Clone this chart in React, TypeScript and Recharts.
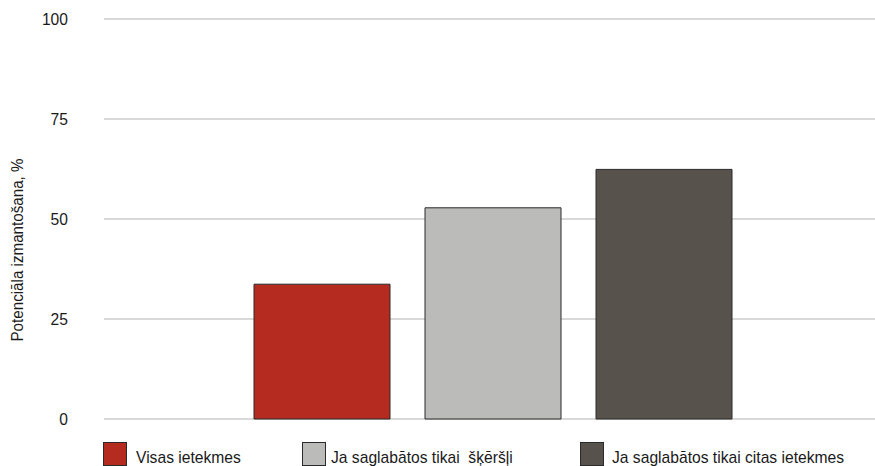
import React from 'react';
import { BarChart, Bar, XAxis, YAxis, CartesianGrid } from 'recharts';

const seriesNames = ['Visas ietekmes', 'Ja saglabātos tikai  šķēršļi', 'Ja saglabātos tikai citas ietekmes'];
const seriesValues = [33.7, 52.8, 62.4];
const seriesColors = ['#B52B20', '#BBBBBA', '#57534C'];
const yTicks = [0, 25, 50, 75, 100];
const yTitle = 'Potenciāla izmantošana, %';

const keys = ['visas', 'skersli', 'citas'];
const row: Record<string, number | string> = { name: '' };
keys.forEach((k, i) => {
  row[k] = seriesValues[i];
});
const data = [row];

// narrow sans look: Liberation Sans squeezed horizontally
const FONT = '"Liberation Sans", Arial, sans-serif';
const SQUEEZE = 0.92;
const INK = '#1a1a1a';

const legendBox = [103, 302, 580];
const legendText = [136, 331, 612];

const YTick = ({ x, y, payload }: any) => (
  <g transform={`translate(${x},${y}) scale(${SQUEEZE},1)`}>
    <text x={0} y={0} dy="0.355em" textAnchor="end" fill={INK} fontSize={17} fontFamily={FONT}>
      {payload.value}
    </text>
  </g>
);

const YTitle = () => (
  <g transform={`translate(22.5,250) rotate(-90) scale(${SQUEEZE},1)`}>
    <text x={0} y={0} textAnchor="middle" fill={INK} fontSize={16.5} fontFamily={FONT}>
      {yTitle}
    </text>
  </g>
);

export default function App() {
  return (
    <div style={{ position: 'absolute', left: 0, top: 0, width: 875, height: 466, background: '#fff', overflow: 'hidden', fontFamily: FONT }}>
      <style>{'html,body{margin:0;overflow:hidden;}'}</style>
      <BarChart
        width={875}
        height={466}
        data={data}
        margin={{ top: 19, right: 0, left: 0, bottom: 47 }}
        barGap={35}
        barSize={136}
      >
        <CartesianGrid vertical={false} stroke="#D9D9D9" strokeWidth={2} />
        <XAxis dataKey="name" hide padding={{ left: 6, right: 0 }} />
        <YAxis
          width={104}
          domain={[0, 100]}
          ticks={yTicks}
          axisLine={false}
          tickLine={false}
          tickSize={0}
          tickMargin={36}
          tick={<YTick />}
          label={<YTitle />}
        />
        {keys.map((k, i) => (
          <Bar key={k} dataKey={k} fill={seriesColors[i]} stroke="#2a2a2a" strokeWidth={1} isAnimationActive={false} />
        ))}
      </BarChart>
      {seriesNames.map((n, i) => (
        <React.Fragment key={n}>
          <div
            style={{
              position: 'absolute',
              left: legendBox[i],
              top: 442,
              width: 22,
              height: 22,
              background: seriesColors[i],
              border: '1px solid #2a2a2a',
            }}
          />
          <span
            style={{
              position: 'absolute',
              left: legendText[i],
              top: 449,
              fontSize: 17,
              lineHeight: '17px',
              color: INK,
              whiteSpace: 'pre',
              transform: `scaleX(${SQUEEZE})`,
              transformOrigin: 'left center',
            }}
          >
            {n}
          </span>
        </React.Fragment>
      ))}
    </div>
  );
}
